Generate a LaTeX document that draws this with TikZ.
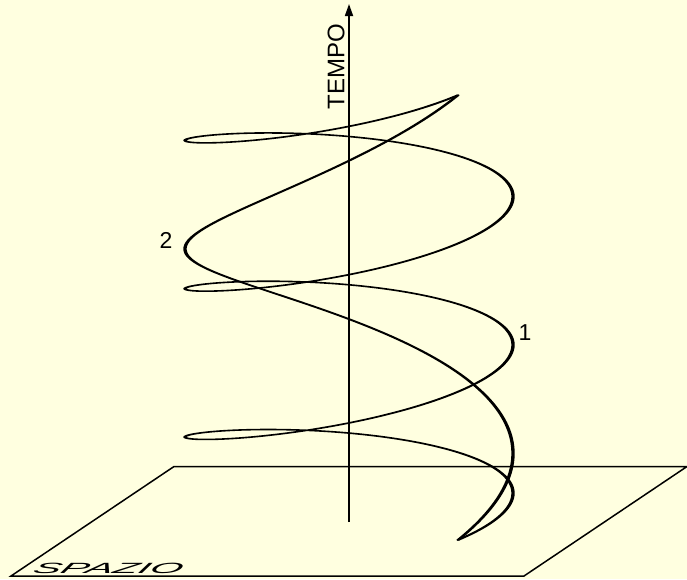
\documentclass[tikz,border=0pt]{standalone}
\usepackage{fontspec}
\setmainfont{Liberation Sans}
\usetikzlibrary{arrows.meta}
\definecolor{bg}{RGB}{255,255,224}
\begin{document}
\begin{tikzpicture}[x=1pt,y=-1pt,
  helixline/.style={line width=1.6pt, line join=round, line cap=round},
  planeline/.style={line width=1.5pt, line join=miter},
  axisline/.style={line width=1.7pt, -{Triangle[length=12pt,width=8pt]}},
  lbl/.style={font=\fontsize{23}{23}\selectfont, inner sep=0pt}]
\fill[bg] (0,0) rectangle (687,579);
\useasboundingbox (0,0) rectangle (687,579);
% plane
\coordinate (p1) at (174,466.5);
\coordinate (p2) at (687,466.5);
\coordinate (p3) at (524,576);
\coordinate (p4) at (11,576);
\draw[planeline] (p1) -- (p2) -- (p3) -- (p4) -- cycle;
% axis
\coordinate (abot) at (349,522);
\coordinate (atop) at (349,4);
\draw[axisline] (abot) -- (atop);
\node[font=\fontsize{24}{24}\selectfont, rotate=90, inner sep=0pt] (tempo) at (336,66.5) {TEMPO};
% helices
\begin{scope}[transform canvas={xscale=2.1}, x=0.4761905pt]
\draw[helixline] plot[variable=\t, domain=-3.985:14.8646, samples=800]
  ({349-164*cos(\t r)}, {428-23.6*\t+32*sin(\t r)+9*cos(\t r)});
\draw[helixline] plot[variable=\t, domain=2.2982:8.5814, samples=300]
  ({349-164*cos(\t r)}, {684.76-70.80*\t+32*sin(\t r)+9*cos(\t r)});
\end{scope}
\node[lbl] (l1) at (525,333) {1};
\node[lbl] (l2) at (166,240) {2};
% SPAZIO
\begin{scope}[shift={(31,573.5)}, xscale=2.8, xslant=0.18]
\node[font=\fontsize{14.8}{14.8}\selectfont\itshape, inner sep=0pt, anchor=base west, transform shape] (spazio) at (0,0) {SPAZIO};
\end{scope}
\end{tikzpicture}
\end{document}
